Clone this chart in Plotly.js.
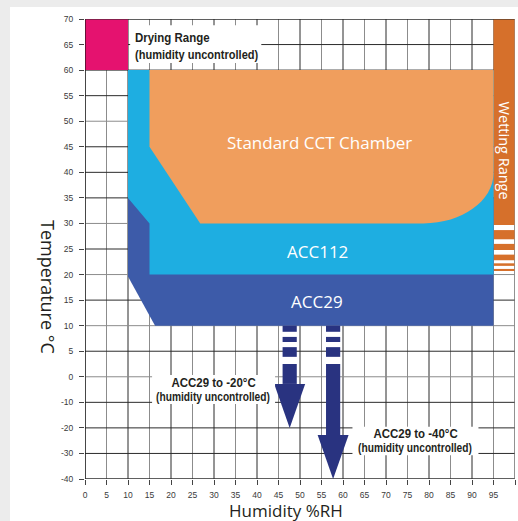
<!DOCTYPE html>
<html><head><meta charset="utf-8">
<script src="https://cdn.plot.ly/plotly-3.0.1.min.js"></script>
<style>
html,body{margin:0;padding:0;background:#ececec;width:518px;height:521px;overflow:hidden}
#chart{position:absolute;left:10px;top:7px;width:508px;height:514px;background:#fff}
</style></head><body><div id="chart"></div>
<script>
// ---- tick values ----
const humidityTicks = [0,5,10,15,20,25,30,35,40,45,50,55,60,65,70,75,80,85,90,95,100];
const tempTicks = [70,65,60,55,50,45,40,35,30,25,20,15,10,5,0,-10,-20,-30,-40];
const lightTempLines = [50,30,20,10,0];

// ---- regions (humidity %RH, temperature °C) ----
const dryingHum = [0,10,10,0];
const dryingTemp = [60,60,70,70];
const acc29Hum = [10,10,16.3,95,95];
const acc29Temp = [35,19.6,10,10,35];
const acc112Hum = [10,10,15,15,95,95];
const acc112Temp = [60,35,30,20,20,60];
const cctHum = [15,15,26.8,78.7,95,95];
const cctTemp = [60,45,30,30,39.8,60];
const wettingHum = [95,100];
const wettingTop = [70,28.7,26.0,23.9,22.2,21.1];
const wettingBottom = [29.7,26.9,24.8,22.8,21.7,20.7];

// ---- arrows ----
const arrowHum = [47.6,57.7];
const arrowTipTemp = [-20,-40];
const arrowDashTemps = [[10,8.8],[7.8,6.8],[5.8,3.9]];
const arrowSolidStart = 2.5;

// ---- labels ----
const regionLabels = ['Standard CCT Chamber','ACC112','ACC29'];
const regionLabelHum = [54.5,54.1,54];
const regionLabelTemp = [45.9,24.5,14.7];
const noteLines = ['Drying Range','(humidity uncontrolled)','ACC29 to -20°C','(humidity uncontrolled)','ACC29 to -40°C','(humidity uncontrolled)'];
const noteHum = [11.3,11.3,29.8,29.8,76.8,76.8];
const noteTemp = [66.4,63.1,-2.1,-7.8,-22.1,-27.8];
const noteSize = [13.5,13,13.5,12,13.5,12];
// white label boxes: [hum0, hum1, temp0, temp1]
const noteBoxes = [[10.5,41,61.4,68.8],[15.6,44.2,-10.7,0.35],[62.2,91.5,-30.7,-19.6]];

// piecewise temperature scale (5°C steps above 0, 10°C steps below)
const f = t => t >= 0 ? t/5 : t/10;

const C = {
  pink:'#e5126f', wet:'#d6702b', cct:'#f09e5d', acc112:'#1eaee1', acc29:'#3d5ba9', arrow:'#293380',
  dark:'#2b2b2b', light:'#8c8c8c'
};

const shapes = [];
function line(x0,y0,x1,y1,color,w){
  shapes.push({type:'line',xref:'x',yref:'y',x0,y0,x1,y1,line:{color,width:w||1}});
}
function poly(xs,ts,color){
  const d = 'M' + xs.map((x,i)=>x+','+f(ts[i])).join(' L') + ' Z';
  shapes.push({type:'path',xref:'x',yref:'y',path:d,fillcolor:color,line:{width:0}});
}

// grid
humidityTicks.forEach(h=>line(h,f(-40),h,f(70), h%10===0?C.dark:C.light));
tempTicks.forEach(t=>line(0,f(t),100,f(t), lightTempLines.includes(t)?C.light:C.dark));

// regions
poly(dryingHum,dryingTemp,C.pink);
wettingTop.forEach((t,i)=>poly([wettingHum[0],wettingHum[1],wettingHum[1],wettingHum[0]],[wettingBottom[i],wettingBottom[i],t,t],C.wet));
poly(acc29Hum,acc29Temp,C.acc29);
poly(acc112Hum,acc112Temp,C.acc112);
(function(){
  const k = 0.55, X = cctHum, Y = cctTemp.map(f);
  const d = `M${X[0]},${Y[0]} L${X[1]},${Y[1]} L${X[2]},${Y[2]} L${X[3]},${Y[3]} `+
    `C${X[3]+k*(X[4]-X[3])},${Y[3]} ${X[4]},${Y[4]-k*(Y[4]-Y[3])} ${X[4]},${Y[4]} L${X[5]},${Y[5]} Z`;
  shapes.push({type:'path',xref:'x',yref:'y',path:d,fillcolor:C.cct,line:{width:0}});
})();

// arrows
const shaftHalf = 1.65, headHalf = 3.6, headLen = 1.72;
arrowHum.forEach((cx,i)=>{
  const tip = f(arrowTipTemp[i]), base = tip + headLen;
  arrowDashTemps.forEach(([a,b])=>{
    shapes.push({type:'rect',xref:'x',yref:'y',x0:cx-shaftHalf,x1:cx+shaftHalf,y0:f(b),y1:f(a),fillcolor:C.arrow,line:{width:0}});
  });
  shapes.push({type:'rect',xref:'x',yref:'y',x0:cx-shaftHalf,x1:cx+shaftHalf,y0:base,y1:f(arrowSolidStart),fillcolor:C.arrow,line:{width:0}});
  shapes.push({type:'path',xref:'x',yref:'y',path:`M${cx-headHalf},${base} L${cx+headHalf},${base} L${cx},${tip} Z`,fillcolor:C.arrow,line:{width:0}});
});

// white label boxes
noteBoxes.forEach(([a,b,c,d])=>shapes.push({type:'rect',xref:'x',yref:'y',x0:a,x1:b,y0:f(c),y1:f(d),fillcolor:'#ffffff',line:{width:0}}));

// frame
line(0,f(-40),0,f(70),'#111',1.2);
line(0,f(70),100,f(70),C.dark,1);
line(0,f(-40),100,f(-40),C.dark,1);
line(100,f(-40),100,f(70),C.light,1);

const cond = 'Liberation Sans';
const myriad = 'Open Sans, Noto Sans, sans-serif';

const annotations = [];
regionLabels.forEach((txt,i)=>annotations.push({
  xref:'x',yref:'y',x:regionLabelHum[i],y:f(regionLabelTemp[i]),text:txt,showarrow:false,
  font:{family:myriad,size:17,color:'#ffffff'}
}));
annotations.push({xref:'x',yref:'y',x:97.5,y:f(44.2),text:'Wetting Range',textangle:90,showarrow:false,
  font:{family:myriad,size:14.5,color:'#ffffff'}});
noteLines.forEach((txt,i)=>annotations.push({
  xref:'x',yref:'y',x:noteHum[i],y:f(noteTemp[i]),text:txt,showarrow:false,borderpad:0,
  xanchor:i<2?'left':'center',align:i<2?'left':'center',yanchor:'middle',
  font:{family:cond,size:noteSize[i],weight:'bold',color:'#231f20'}
}));

annotations.push({xref:'paper',yref:'paper',x:(48-85)/430,y:(479-287)/460,xanchor:'center',yanchor:'middle',
  text:'Temperature °C',textangle:90,showarrow:false,font:{family:myriad,size:18,color:'#231f20'}});
annotations.push({xref:'paper',yref:'paper',x:(285.5-85)/430,y:(479-510)/460,xanchor:'center',yanchor:'middle',
  text:'Humidity %RH',showarrow:false,font:{family:myriad,size:17,color:'#231f20'}});

const layout = {
  width:508,height:514,
  margin:{l:75,r:3,t:12,b:42},
  paper_bgcolor:'#ffffff',plot_bgcolor:'#ffffff',
  showlegend:false,
  xaxis:{range:[0,100],tickmode:'array',tickvals:humidityTicks,ticktext:humidityTicks.map(String),
    ticks:'outside',ticklen:5,tickcolor:'#444',showgrid:false,zeroline:false,showline:false,
    tickfont:{family:'Liberation Sans',size:8.5,color:'#3a3a3a'},ticklabelstandoff:3,fixedrange:true},
  yaxis:{range:[f(-40),f(70)],tickmode:'array',tickvals:tempTicks.map(f),ticktext:tempTicks.map(String),
    ticks:'outside',ticklen:5,tickcolor:'#444',showgrid:false,zeroline:false,showline:false,
    tickfont:{family:'Liberation Sans',size:8.5,color:'#3a3a3a'},ticklabelstandoff:4,fixedrange:true},
  shapes,annotations
};
Plotly.newPlot('chart',[{x:[],y:[],type:'scatter'}],layout,{displayModeBar:false,staticPlot:true}).then(()=>{
  // condense the bold note labels (narrow sans look)
  document.querySelectorAll('#chart .annotation-text').forEach(el=>{
    const ff = (el.style.fontFamily||'');
    if (ff.indexOf('Liberation') === -1) return;
    const x = parseFloat(el.getAttribute('x')) || 0;
    el.setAttribute('transform', `translate(${x},0) scale(0.85,1) translate(${-x},0)`);
  });
});
</script></body></html>
